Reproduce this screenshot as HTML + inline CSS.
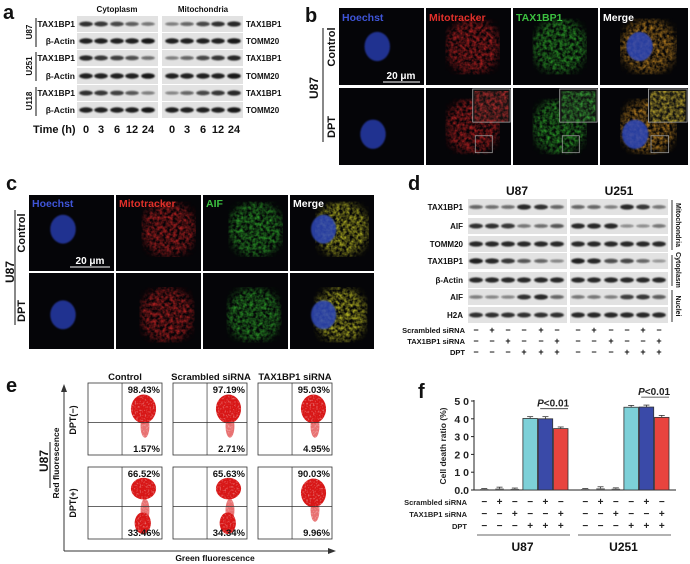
<!DOCTYPE html>
<html><head><meta charset="utf-8">
<style>
html,body{margin:0;padding:0;background:#fff;}
svg{display:block;font-family:"Liberation Sans",Arial,sans-serif;font-weight:bold;}
</style></head>
<body>
<svg id="fig" width="690" height="564" viewBox="0 0 690 564" xmlns="http://www.w3.org/2000/svg">
<defs>
<filter id="blur1" x="-50%" y="-50%" width="200%" height="200%"><feGaussianBlur stdDeviation="0.8"/></filter>
<filter id="blur3" x="-50%" y="-50%" width="200%" height="200%"><feGaussianBlur stdDeviation="4"/></filter>
<filter id="speck" x="0" y="0" width="100%" height="100%">
<feTurbulence type="fractalNoise" baseFrequency="0.3" numOctaves="2" seed="3" result="n"/>
<feColorMatrix in="n" type="matrix" values="0 0 0 0 0  0 0 0 0 0  0 0 0 0 0  0 0 0 -1.8 1.3" result="m"/>
<feComposite in="SourceGraphic" in2="m" operator="in"/>
</filter>
<filter id="speck2" x="0" y="0" width="100%" height="100%">
<feTurbulence type="fractalNoise" baseFrequency="0.6" numOctaves="1" seed="7" result="n"/>
<feColorMatrix in="n" type="matrix" values="0 0 0 0 0  0 0 0 0 0  0 0 0 0 0  0 0 0 -1.2 1.6" result="m"/>
<feComposite in="SourceGraphic" in2="m" operator="in"/>
</filter>
</defs>
<g id="layer"></g>
</svg>
<script>
const NS="http://www.w3.org/2000/svg";
const layer=document.getElementById('layer');
function mk(tag,attrs,parent){const e=document.createElementNS(NS,tag);for(const k in attrs)e.setAttribute(k,attrs[k]);(parent||layer).appendChild(e);return e;}
function txt(x,y,s,size,opts){opts=opts||{};const t=mk('text',{x:x,y:y,'font-size':size,fill:opts.fill||'#111','text-anchor':opts.anchor||'start'},opts.parent);if(opts.rot)t.setAttribute('transform','rotate(-90 '+x+' '+y+')');if(opts.italic)t.setAttribute('font-style','italic');t.textContent=s;return t;}

/* ---------- panel letters ---------- */
[['a',3,19],['b',305,22],['c',6,190],['d',408,190],['e',6,392],['f',418,398]].forEach(p=>{
 const t=txt(p[1],p[2],p[0],20);
 
 
});

/* ---------- western blot helper ---------- */
function blot(x,y,w,h,lanes,intens,name){
 const g=mk('g',{});
 
 
 mk('rect',{x:x,y:y,width:w,height:h,fill:'#e2e2e2'},g);
 const lw=w/lanes.length;
 lanes.forEach((cx,i)=>{
  const v=intens[i];
  mk('ellipse',{cx:cx,cy:y+h/2,rx:lw*0.42,ry:1.2+1.6*v,fill:'#111','fill-opacity':0.25+0.7*v,filter:'url(#blur1)'},g);
 });
}

/* ---------- panel a ---------- */
const aRows=['TAX1BP1','β-Actin','TAX1BP1','β-Actin','TAX1BP1','β-Actin'];
const aRight=['TAX1BP1','TOMM20','TAX1BP1','TOMM20','TAX1BP1','TOMM20'];
const aTops=[16,33,50,68,85,102];
const cytoLanes=[86,101,117,132,148], mitoLanes=[172,187,203,218,234];
const aCytoTax=[[0.85,0.8,0.7,0.55,0.4],[0.9,0.8,0.75,0.65,0.45],[0.85,0.8,0.75,0.6,0.35]];
const aMitoTax=[[0.35,0.5,0.7,0.85,0.9],[0.35,0.5,0.7,0.8,0.9],[0.3,0.5,0.7,0.8,0.9]];
aTops.forEach((yt,i)=>{
 const isTax=i%2===0, k=Math.floor(i/2);
 blot(77,yt,81,16,cytoLanes,isTax?aCytoTax[k]:[0.95,0.95,0.95,0.95,1],'blot-a-cyto-'+i);
 blot(162,yt,81,16,mitoLanes,isTax?aMitoTax[k]:[0.95,0.95,0.95,0.95,1],'blot-a-mito-'+i);
 txt(75,yt+11,aRows[i],8.5,{anchor:'end'});
 txt(246,yt+11,aRight[i],8,{});
});
txt(117,12,'Cytoplasm',8,{anchor:'middle'});
txt(203,12,'Mitochondria',8,{anchor:'middle'});
['U87','U251','U118'].forEach((s,i)=>{
 const yc=aTops[i*2]+16;
 txt(32,yc,s,8,{rot:true,anchor:'middle'});
 mk('line',{x1:36,y1:aTops[i*2]+2,x2:36,y2:aTops[i*2]+31,stroke:'#111','stroke-width':1});
});
txt(33,133,'Time (h)',11,{});
const times=['0','3','6','12','24'];
times.forEach((t,i)=>{txt(cytoLanes[i],133,t,11,{anchor:'middle'});txt(mitoLanes[i],133,t,11,{anchor:'middle'});});

/* ---------- microscopy helper ---------- */
function cellImg(x,y,w,h,kind,name,opt){
 opt=opt||{};
 const g=mk('g',{});
 
 
 mk('rect',{x:x,y:y,width:w,height:h,fill:'#050508'},g);
 const cx=x+w*(opt.cx||0.5), cy=y+h*(opt.cy||0.5);
 if(kind==='blue'){
  mk('ellipse',{cx:x+w*(opt.nx||0.4),cy:y+h*(opt.ny||0.45),rx:w*0.15,ry:h*0.19,fill:'#2438a8','fill-opacity':0.85,filter:'url(#blur1)'},g);
 } else {
  const col={red:'#c42024',green:'#2ea82c',merge:'#c88a20',mergeY:'#c8c828'}[kind];
  const sp=mk('g',{filter:'url(#speck)',opacity:0.85},g);
  mk('ellipse',{cx:cx,cy:cy,rx:w*0.32,ry:h*0.36,fill:col,filter:'url(#blur3)'},sp);
  if(kind==='merge'||kind==='mergeY'){
   mk('ellipse',{cx:x+w*(opt.nx||0.4),cy:y+h*(opt.ny||0.45),rx:w*0.15,ry:h*0.19,fill:'#3048b8','fill-opacity':0.85,filter:'url(#blur1)'},g);
  }
 }
 if(opt.inset){
  mk('rect',{x:x+w*0.58,y:y+h*0.62,width:w*0.2,height:h*0.22,fill:'none',stroke:'#999','stroke-width':0.8},g);
  const col={red:'#c83030',green:'#38a838',merge:'#c8b030'}[kind];
  mk('rect',{x:x+w*0.55,y:y+1,width:w*0.44,height:h*0.43,fill:'#111',stroke:'#aaa','stroke-width':0.8},g);
  const sp=mk('g',{filter:'url(#speck)',opacity:0.85},g);
  mk('rect',{x:x+w*0.57,y:y+3,width:w*0.4,height:h*0.4,fill:col},sp);
 }
}
function labelCol(x,y,s,color){txt(x,y,s,10.5,{fill:color});}

/* ---------- panel b ---------- */
const bCols=[339,426,513,600], bW=[85,85,85,88];
const bRows=[8,88], bH=77;
const kinds=['blue','red','green','merge'];
bRows.forEach((yy,r)=>{
 bCols.forEach((xx,c)=>{
  cellImg(xx,yy,bW[c],bH,kinds[c],'image-b-'+(r?'dpt':'control')+'-'+c,{inset:r===1&&c>0,cx:0.55,cy:0.5,nx:r?0.4:0.45,ny:r?0.6:0.5});
 });
});
labelCol(342,21,'Hoechst','#3f55d8');labelCol(429,21,'Mitotracker','#e0302a');labelCol(516,21,'TAX1BP1','#3cc040');labelCol(603,21,'Merge','#ffffff');
mk('line',{x1:383,y1:82,x2:420,y2:82,stroke:'#fff','stroke-width':1});
txt(401,79,'20 μm',10,{fill:'#fff',anchor:'middle'});
txt(318,88,'U87',12,{rot:true,anchor:'middle'});
mk('line',{x1:323,y1:28,x2:323,y2:142,stroke:'#111'});
txt(335,47,'Control',11,{rot:true,anchor:'middle'});
txt(335,127,'DPT',11,{rot:true,anchor:'middle'});

/* ---------- panel c ---------- */
const cCols=[29,116,203,290], cRows=[195,273];
const cKinds=['blue','red','green','mergeY'];
cRows.forEach((yy,r)=>{
 cCols.forEach((xx,c)=>{
  cellImg(xx,yy,c===3?84:85,76,cKinds[c],'image-c-'+(r?'dpt':'control')+'-'+c,{cx:r?0.6:0.62,cy:r?0.55:0.45,nx:0.4,ny:r?0.55:0.45});
 });
});
labelCol(32,207,'Hoechst','#3f55d8');labelCol(119,207,'Mitotracker','#e0302a');labelCol(206,207,'AIF','#3cc040');labelCol(293,207,'Merge','#ffffff');
mk('line',{x1:70,y1:267,x2:110,y2:267,stroke:'#fff','stroke-width':1});
txt(90,264,'20 μm',10,{fill:'#fff',anchor:'middle'});
txt(14,272,'U87',12,{rot:true,anchor:'middle'});
mk('line',{x1:15,y1:210,x2:15,y2:325,stroke:'#111'});
txt(25,233,'Control',11,{rot:true,anchor:'middle'});
txt(25,311,'DPT',11,{rot:true,anchor:'middle'});

/* ---------- panel d ---------- */
const dRows=['TAX1BP1','AIF','TOMM20','TAX1BP1','β-Actin','AIF','H2A'];
const dTops=[199,218,236,253,272,289,307], dH=16;
const dL1=[476,492,508,524,541,557], dL2=[578,594,611,627,643,659];
const dU87=[[0.5,0.45,0.45,0.9,0.85,0.5],[0.85,0.85,0.8,0.4,0.45,0.6],[0.9,0.9,0.9,0.9,0.9,0.9],[0.95,0.9,0.8,0.6,0.5,0.3],[0.9,0.9,0.9,0.9,0.9,0.9],[0.35,0.3,0.3,0.85,0.9,0.5],[0.85,0.85,0.85,0.85,0.85,0.85]];
const dU251=[[0.5,0.5,0.35,0.9,0.8,0.4],[0.9,0.9,0.9,0.25,0.25,0.4],[0.9,0.9,0.9,0.9,0.9,0.9],[0.95,0.9,0.65,0.7,0.5,0.2],[0.9,0.9,0.9,0.9,0.9,0.9],[0.4,0.4,0.35,0.75,0.8,0.55],[0.9,0.9,0.9,0.9,0.9,0.9]];
dTops.forEach((yt,i)=>{
 blot(468,yt,99,dH,dL1,dU87[i],'blot-d-u87-'+i);
 blot(570,yt,98,dH,dL2,dU251[i],'blot-d-u251-'+i);
 txt(463,yt+11,dRows[i],8,{anchor:'end'});
});
txt(517,195,'U87',12,{anchor:'middle'});
txt(619,195,'U251',12,{anchor:'middle'});
mk('line',{x1:672,y1:200,x2:672,y2:250,stroke:'#333'});
mk('line',{x1:672,y1:255,x2:672,y2:286,stroke:'#333'});
mk('line',{x1:672,y1:290,x2:672,y2:322,stroke:'#333'});
[['Mitochondria',225],['Cytoplasm',270],['Nuclei',306]].forEach(s=>{const t=txt(676,s[1],s[0],7,{anchor:'middle'});t.setAttribute('transform','rotate(90 676 '+s[1]+')');});
const dSig=[['−','+','−','−','+','−'],['−','−','+','−','−','+'],['−','−','−','+','+','+']];
const dRowNames=['Scrambled siRNA','TAX1BP1 siRNA','DPT'];
dRowNames.forEach((n,r)=>{
 txt(465,333+r*11,n,7.5,{anchor:'end'});
 dSig[r].forEach((s,i)=>{txt(dL1[i],333+r*11,s,9,{anchor:'middle'});txt(dL2[i],333+r*11,s,9,{anchor:'middle'});});
});

/* ---------- panel e ---------- */
const eCols=[88,173,258], eRows=[383,467], eW=74, eH=72;
const eTop=['98.43%','97.19%','95.03%','66.52%','65.63%','90.03%'];
const eBot=['1.57%','2.71%','4.95%','33.46%','34.34%','9.96%'];
const eLower=[false,false,false,true,true,false];
eRows.forEach((yy,r)=>{
 eCols.forEach((xx,c)=>{
  const k=r*3+c;
  const g=mk('g',{});
  
  
  mk('rect',{x:xx,y:yy,width:eW,height:eH,fill:'#fff',stroke:'#333','stroke-width':0.8},g);
  const sp=mk('g',{filter:'url(#speck2)'},g);
  mk('ellipse',{cx:xx+eW*0.75,cy:yy+eH*(eLower[k]?0.3:0.36),rx:eW*0.17,ry:eH*(eLower[k]?0.15:0.2),fill:'#d81818'},sp);
  mk('ellipse',{cx:xx+eW*0.77,cy:yy+eH*0.6,rx:eW*0.06,ry:eH*0.16,fill:'#d81818','fill-opacity':0.6},sp);
  if(eLower[k]) mk('ellipse',{cx:xx+eW*0.74,cy:yy+eH*0.78,rx:eW*0.11,ry:eH*0.15,fill:'#d81818'},sp);
  mk('line',{x1:xx+eW*0.46,y1:yy,x2:xx+eW*0.46,y2:yy+eH,stroke:'#333','stroke-width':0.7},g);
  mk('line',{x1:xx,y1:yy+eH*0.55,x2:xx+eW,y2:yy+eH*0.55,stroke:'#333','stroke-width':0.7},g);
  txt(xx+eW-2,yy+10,eTop[k],9.5,{anchor:'end',parent:g});
  txt(xx+eW-2,yy+eH-3,eBot[k],9.5,{anchor:'end',parent:g});
 });
});
txt(125,380,'Control',9.5,{anchor:'middle'});
txt(211,380,'Scrambled siRNA',9.5,{anchor:'middle'});
txt(295,380,'TAX1BP1 siRNA',9.5,{anchor:'middle'});
mk('line',{x1:64,y1:551,x2:64,y2:390,stroke:'#333','stroke-width':1});
mk('polygon',{points:'61,392 64,384 67,392',fill:'#333'});
mk('line',{x1:64,y1:551,x2:330,y2:551,stroke:'#333','stroke-width':1});
mk('polygon',{points:'328,548 336,551 328,554',fill:'#333'});
txt(215,561,'Green fluorescence',8.5,{anchor:'middle'});
txt(59,463,'Red fluorescence',8.5,{rot:true,anchor:'middle'});
txt(48,461,'U87',12,{rot:true,anchor:'middle'});
mk('line',{x1:50,y1:442,x2:50,y2:488,stroke:'#111'});
txt(76,420,'DPT(−)',9,{rot:true,anchor:'middle'});
txt(76,503,'DPT(+)',9,{rot:true,anchor:'middle'});
</script>

<script>
/* ---------- panel f : bar chart ---------- */
const fGroups=['U87','U251'];
const fConds=['ctrl','scr','tax','dpt','dpt-scr','dpt-tax'];
const fU87=[0.5,0.8,0.6,40.2,40.0,34.5];
const fU251=[0.5,0.9,0.7,46.5,46.6,40.8];
const fU87Err=[0.3,0.8,0.5,1.0,1.2,0.9];
const fU251Err=[0.3,0.9,0.5,1.0,1.1,1.1];
const fTicks=[0,10,20,30,40,50];
const fTickLabels=['0.0','1 0','2 0','3 0','4 0','5 0'];
const fScr=['−','+','−','−','+','−'];
const fTax=['−','−','+','−','−','+'];
const fDpt=['−','−','−','+','+','+'];

(function(){
 const NS="http://www.w3.org/2000/svg";
 const svg=document.getElementById('layer');
 function mk(tag,a,p){const e=document.createElementNS(NS,tag);for(const k in a)e.setAttribute(k,a[k]);(p||svg).appendChild(e);return e;}
 const x0=474, y0=490, yTop=401, yMax=50;
 const yS=v=>y0-(v/yMax)*(y0-yTop);
 const groupStart=[477,578], step=15.3, bw=14.5;
 const xS=(g,i)=>groupStart[g]+i*step;
 const colors=['#9a9a9a','#9a9a9a','#9a9a9a','#7dd0d8','#3a4aa8','#e8443e'];
 const g=mk('g',{});
 
 
 const ax=mk('line',{x1:x0,y1:yTop-1,x2:x0,y2:y0,stroke:'#222','stroke-width':1},g);
 
 
 const xa=mk('line',{x1:x0,y1:y0,x2:676,y2:y0,stroke:'#222','stroke-width':1},g);
 
 
 fTicks.forEach((t,i)=>{
  mk('line',{x1:x0-3,y1:yS(t),x2:x0,y2:yS(t),stroke:'#222'},g);
  const tl=mk('text',{x:x0-5,y:yS(t)+4,'font-size':10.5,'text-anchor':'end',fill:'#222'},g);
  
  
  tl.textContent=fTickLabels[i];
 });
 const yt=mk('text',{x:446,y:446,'font-size':8.5,'text-anchor':'middle',fill:'#222',transform:'rotate(-90 446 446)'},g);
 
 
 yt.textContent='Cell death ratio (%)';
 [fU87,fU251].forEach((vals,gi)=>{
  const errs=gi?fU251Err:fU87Err;
  vals.forEach((v,i)=>{
   const x=xS(gi,i);
   const big=v>5;
   let r;
   if(big){
    r=mk('rect',{x:x,y:yS(v),width:bw,height:y0-yS(v),fill:colors[i],stroke:'#333','stroke-width':0.8},g);
   } else {
    r=mk('rect',{x:x+3,y:yS(v),width:bw-6,height:y0-yS(v),fill:'#555'},g);
   }
   
   
   const cx=x+bw/2, ye=yS(v+errs[i]);
   mk('line',{x1:cx,y1:yS(v),x2:cx,y2:ye,stroke:'#333','stroke-width':0.8},g);
   mk('line',{x1:cx-3,y1:ye,x2:cx+3,y2:ye,stroke:'#333','stroke-width':0.8},g);
   [fScr,fTax,fDpt].forEach((arr,rr)=>{
    const t=mk('text',{x:cx,y:505+rr*12,'font-size':10,'text-anchor':'middle',fill:'#222'},g);
    t.textContent=arr[i];
   });
  });
  const top=Math.max(vals[4]+errs[4],vals[5]+errs[5]);
  const ly=yS(top)-8;
  mk('line',{x1:xS(gi,4)+2,y1:ly,x2:xS(gi,5)+bw,y2:ly,stroke:'#333','stroke-width':0.8},g);
  const p=mk('text',{x:(xS(gi,4)+xS(gi,5)+bw)/2,y:ly-2,'font-size':10,'text-anchor':'middle',fill:'#222'},g);
  
  
  const it=mk('tspan',{'font-style':'italic'},p);it.textContent='P';
  const rest=mk('tspan',{},p);rest.textContent='<0.01';
  mk('line',{x1:xS(gi,0),y1:535,x2:xS(gi,5)+bw+2,y2:535,stroke:'#333','stroke-width':0.8},g);
  const gl=mk('text',{x:(xS(gi,0)+xS(gi,5)+bw)/2,y:551,'font-size':12,'text-anchor':'middle',fill:'#111'},g);
  
  
  gl.textContent=fGroups[gi];
 });
 ['Scrambled siRNA','TAX1BP1 siRNA','DPT'].forEach((n,r)=>{
  const t=mk('text',{x:467,y:505+r*12,'font-size':7.5,'text-anchor':'end',fill:'#222'},g);
  
  
  t.textContent=n;
 });
})();
</script>
</body></html>
